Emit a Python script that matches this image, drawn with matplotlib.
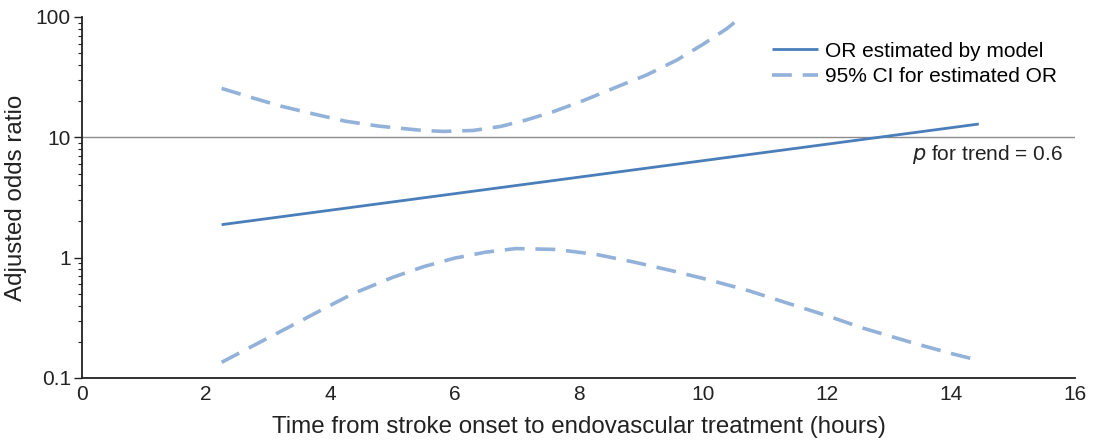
import matplotlib
matplotlib.use("Agg")
import matplotlib.pyplot as plt
from matplotlib.ticker import FixedLocator, LogLocator, NullFormatter

plt.rcParams['font.family'] = ['Liberation Sans', 'DejaVu Sans']

# Estimated OR (solid)
or_hours = [2.25, 14.45]
or_values = [1.88, 12.9]

# Upper 95% CI
upper_hours = [2.25, 2.76, 3.2, 3.74, 4.25, 4.78, 5.12, 5.5, 5.82, 6.3, 6.74, 7.15, 7.59, 8.1, 8.67, 9.1, 9.59, 10.0, 10.39, 10.6]
upper_values = [25.5, 21.2, 18.2, 15.6, 13.6, 12.4, 11.9, 11.4, 11.2, 11.4, 12.3, 13.9, 16.3, 20.4, 26.9, 33.0, 44.0, 59.0, 80.0, 98.0]

# Lower 95% CI
lower_hours = [2.25, 2.72, 3.1, 3.54, 3.95, 4.37, 5.02, 5.5, 6.0, 6.5, 6.99, 7.65, 8.3, 8.89, 9.5, 10.12, 10.75, 11.36, 12.0, 12.58, 13.4, 14.0, 14.45]
lower_values = [0.135, 0.181, 0.229, 0.301, 0.389, 0.503, 0.69, 0.84, 0.99, 1.11, 1.19, 1.17, 1.06, 0.92, 0.78, 0.65, 0.53, 0.42, 0.33, 0.26, 0.195, 0.16, 0.14]

ref_value = 10
x_ticks = [0, 2, 4, 6, 8, 10, 12, 14, 16]
y_ticks = [0.1, 1, 10, 100]
y_tick_labels = ["0.1", "1", "10", "100"]

solid_color = "#4a7ebb"
dash_color = "#93b2d9"

fig = plt.figure(figsize=(10.93, 4.45), dpi=100)
ax = fig.add_axes([0.075, 0.1506, 0.9085, 0.8112])

ax.axhline(ref_value, color="#8c8c8c", lw=1.0, zorder=1)
ax.plot(or_hours, or_values, color=solid_color, lw=2.0, solid_capstyle="butt",
        label="OR estimated by model", zorder=3)
ax.plot(upper_hours, upper_values, color=dash_color, lw=2.6, dashes=(5.5, 3.0),
        label="95% CI for estimated OR", zorder=2)
ax.plot(lower_hours, lower_values, color=dash_color, lw=2.6, dashes=(5.5, 3.0), zorder=2)

ax.set_yscale("log")
ax.set_xlim(0, 16)
ax.set_ylim(0.1, 100)
ax.set_xticks(x_ticks)
ax.set_xticklabels([str(t) for t in x_ticks])
ax.yaxis.set_major_locator(FixedLocator(y_ticks))
ax.set_yticklabels(y_tick_labels)
ax.yaxis.set_minor_locator(LogLocator(base=10, subs=range(2, 10)))
ax.yaxis.set_minor_formatter(NullFormatter())

for s in ["top", "right"]:
    ax.spines[s].set_visible(False)
for s in ["left", "bottom"]:
    ax.spines[s].set_linewidth(1.3)
    ax.spines[s].set_color("#222222")

ax.tick_params(axis="x", length=0, labelsize=15, pad=5, colors="#222222")
ax.tick_params(axis="y", which="major", length=6, width=1.0, labelsize=15, pad=2, colors="#222222")
ax.tick_params(axis="y", which="minor", length=3, width=0.8, colors="#222222")

ax.set_xlabel("Time from stroke onset to endovascular treatment (hours)", fontsize=17.4, labelpad=9, color="#222222")
ax.set_ylabel("Adjusted odds ratio", fontsize=17.4, labelpad=6, color="#222222")

leg = ax.legend(loc="upper right", bbox_to_anchor=(0.99, 0.955), frameon=False, fontsize=15,
                handlelength=2.25, handletextpad=0.3, labelspacing=0.3, borderaxespad=0)

ax.text(0.988, 0.62, r"$\it{p}$ for trend = 0.6", transform=ax.transAxes, ha="right", va="center",
        fontsize=15, color="#222222")

fig.savefig("out.png", dpi=100)
